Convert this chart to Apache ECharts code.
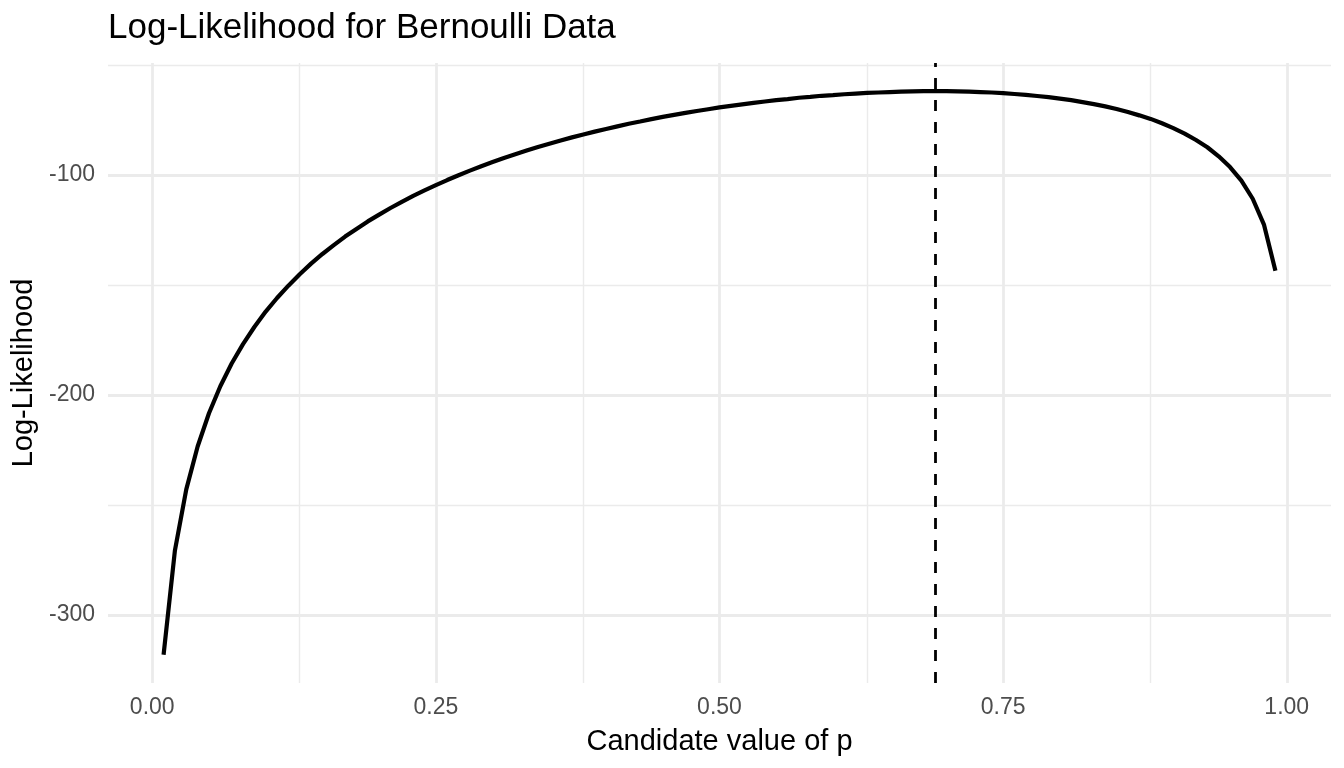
<!DOCTYPE html>
<html lang="en">
<head>
  <meta charset="UTF-8">
  <title>Log-Likelihood for Bernoulli Data</title>
  <script src="https://cdn.jsdelivr.net/npm/echarts@6.0.0/dist/echarts.min.js"></script>
  <style>
    html, body { margin: 0; padding: 0; background: #fff; }
    #chart { width: 1344px; height: 768px; }
  </style>
</head>
<body>
  <div id="chart"></div>
  <script>
    // candidate p values and the log-likelihood at each one
    var pValues = [
      0.01, 0.02, 0.03, 0.04, 0.05, 0.06, 0.07, 0.08, 0.09, 0.10,
      0.11, 0.12, 0.13, 0.14, 0.15, 0.16, 0.17, 0.18, 0.19, 0.20,
      0.21, 0.22, 0.23, 0.24, 0.25, 0.26, 0.27, 0.28, 0.29, 0.30,
      0.31, 0.32, 0.33, 0.34, 0.35, 0.36, 0.37, 0.38, 0.39, 0.40,
      0.41, 0.42, 0.43, 0.44, 0.45, 0.46, 0.47, 0.48, 0.49, 0.50,
      0.51, 0.52, 0.53, 0.54, 0.55, 0.56, 0.57, 0.58, 0.59, 0.60,
      0.61, 0.62, 0.63, 0.64, 0.65, 0.66, 0.67, 0.68, 0.69, 0.70,
      0.71, 0.72, 0.73, 0.74, 0.75, 0.76, 0.77, 0.78, 0.79, 0.80,
      0.81, 0.82, 0.83, 0.84, 0.85, 0.86, 0.87, 0.88, 0.89, 0.90,
      0.91, 0.92, 0.93, 0.94, 0.95, 0.96, 0.97, 0.98, 0.99
    ];
    var logLik = [
      -318.1, -270.6, -242.9, -223.4, -208.3, -196.0, -185.7, -176.9, -169.1, -162.1,
      -155.9, -150.3, -145.1, -140.3, -135.9, -131.9, -128.0, -124.5, -121.1, -118.0,
      -115.0, -112.2, -109.5, -107.0, -104.6, -102.3, -100.1, -98.0, -96.0, -94.1,
      -92.3, -90.6, -88.9, -87.3, -85.8, -84.3, -82.9, -81.6, -80.3, -79.1,
      -77.9, -76.7, -75.7, -74.6, -73.6, -72.7, -71.8, -70.9, -70.1, -69.3,
      -68.6, -67.9, -67.2, -66.6, -66.0, -65.5, -64.9, -64.5, -64.0, -63.7,
      -63.3, -63.0, -62.7, -62.5, -62.3, -62.1, -62.0, -61.9, -61.9, -61.9,
      -62.0, -62.1, -62.3, -62.5, -62.8, -63.2, -63.6, -64.1, -64.6, -65.3,
      -66.0, -66.9, -67.8, -68.8, -70.0, -71.4, -72.9, -74.5, -76.5, -78.7,
      -81.2, -84.1, -87.4, -91.5, -96.4, -102.6, -110.8, -122.7, -143.5
    ];
    var mleP = 0.69;

    // axis breaks
    var xMajorBreaks = [0, 0.25, 0.5, 0.75, 1];
    var xMinorBreaks = [0.125, 0.375, 0.625, 0.875];
    var yMajorBreaks = [-300, -200, -100];
    var yMinorBreaks = [-250, -150, -50];

    var FONT = "'Liberation Sans', Arial, Helvetica, sans-serif";
    var curve = pValues.map(function (p, i) { return [p, logLik[i]]; });

    function gridLines(axis, values, width) {
      return values.map(function (v) {
        var item = { lineStyle: { color: '#EBEBEB', width: width, type: 'solid' } };
        item[axis] = v;
        return item;
      });
    }

    var chart = echarts.init(document.getElementById('chart'));
    chart.setOption({
      animation: false,
      backgroundColor: '#ffffff',
      title: {
        text: 'Log-Likelihood for Bernoulli Data',
        left: 108, top: 11, padding: 0,
        textStyle: { fontFamily: FONT, fontSize: 35, fontWeight: 'normal', color: '#000' }
      },
      grid: { left: 108, right: 13, top: 63, bottom: 85 },
      xAxis: {
        type: 'value',
        min: -0.039, max: 1.039,
        name: 'Candidate value of p',
        nameLocation: 'middle',
        nameGap: 44,
        nameTextStyle: { fontFamily: FONT, fontSize: 29, color: '#000' },
        axisLine: { show: false },
        axisTick: { show: false },
        splitLine: { show: false },
        axisLabel: {
          customValues: xMajorBreaks,
          formatter: function (v) { return v.toFixed(2); },
          fontFamily: FONT, fontSize: 23, color: '#4D4D4D', margin: 13
        }
      },
      yAxis: {
        type: 'value',
        min: -330.9, max: -49.1,
        name: 'Log-Likelihood',
        nameLocation: 'middle',
        nameGap: 63,
        nameTextStyle: { fontFamily: FONT, fontSize: 29, color: '#000' },
        axisLine: { show: false },
        axisTick: { show: false },
        splitLine: { show: false },
        axisLabel: {
          customValues: yMajorBreaks,
          fontFamily: FONT, fontSize: 23, color: '#4D4D4D', margin: 13
        }
      },
      series: [
        {
          // panel grid lines, kept on the bottom layer
          type: 'line', zlevel: 0, z: 1, silent: true,
          data: curve, showSymbol: false,
          lineStyle: { opacity: 0, width: 0 },
          markLine: {
            silent: true, symbol: 'none', animation: false,
            label: { show: false },
            data: []
              .concat(gridLines('xAxis', xMinorBreaks, 1.4))
              .concat(gridLines('yAxis', yMinorBreaks, 1.4))
              .concat(gridLines('xAxis', xMajorBreaks, 2.8))
              .concat(gridLines('yAxis', yMajorBreaks, 2.8))
          }
        },
        {
          type: 'line', zlevel: 1, z: 3,
          data: curve, showSymbol: false, smooth: false,
          lineStyle: { color: '#000', width: 4.2 },
          markLine: {
            silent: true, symbol: 'none', animation: false,
            label: { show: false },
            data: [{ xAxis: mleP }],
            lineStyle: { color: '#000', width: 2.8, type: [11, 11] }
          }
        }
      ]
    });
  </script>
</body>
</html>
